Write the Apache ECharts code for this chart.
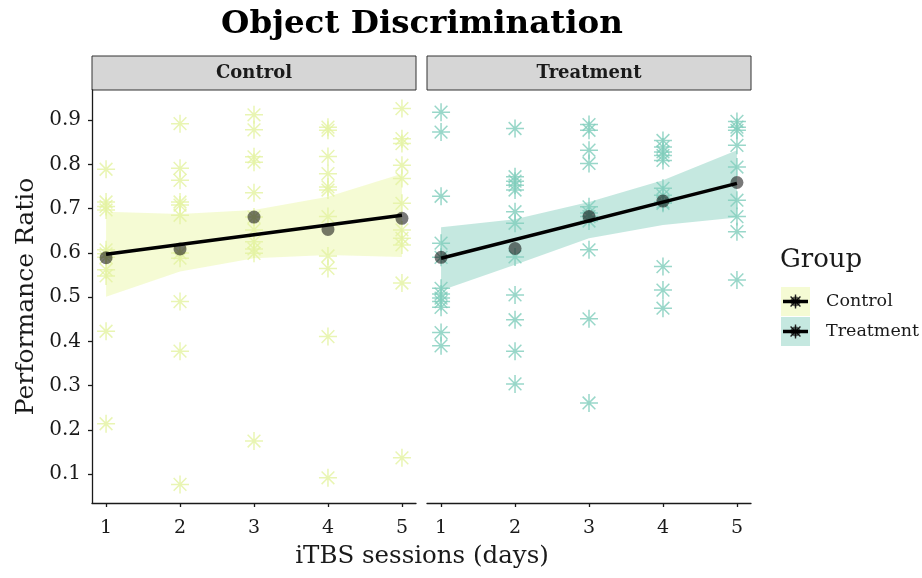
<!DOCTYPE html>
<html><head><meta charset="utf-8">
<script src="https://cdn.jsdelivr.net/npm/echarts@6/dist/echarts.min.js"></script>
<style>html,body{margin:0;padding:0;background:#fff}#chart{width:922px;height:578px}</style>
</head><body><div id="chart"></div>
<script>
// ---- data ----
const days = [1, 2, 3, 4, 5];
const yTicks = [0.1, 0.2, 0.3, 0.4, 0.5, 0.6, 0.7, 0.8, 0.9];
const groups = ['Control', 'Treatment'];

const controlDay1 = [0.789, 0.715, 0.705, 0.697, 0.607, 0.598, 0.590, 0.562, 0.548, 0.423, 0.214];
const controlDay2 = [0.892, 0.791, 0.764, 0.715, 0.708, 0.685, 0.600, 0.588, 0.490, 0.378, 0.077];
const controlDay3 = [0.912, 0.878, 0.817, 0.805, 0.736, 0.681, 0.652, 0.625, 0.609, 0.599, 0.175];
const controlDay4 = [0.884, 0.877, 0.818, 0.779, 0.749, 0.742, 0.682, 0.593, 0.565, 0.411, 0.092];
const controlDay5 = [0.926, 0.858, 0.847, 0.798, 0.768, 0.712, 0.652, 0.633, 0.618, 0.532, 0.137];

const treatmentDay1 = [0.918, 0.873, 0.728, 0.622, 0.590, 0.520, 0.507, 0.498, 0.490, 0.477, 0.420, 0.390];
const treatmentDay2 = [0.881, 0.772, 0.762, 0.753, 0.742, 0.693, 0.667, 0.591, 0.505, 0.449, 0.378, 0.304];
const treatmentDay3 = [0.890, 0.877, 0.832, 0.802, 0.704, 0.690, 0.682, 0.672, 0.607, 0.451, 0.261];
const treatmentDay4 = [0.854, 0.839, 0.828, 0.820, 0.809, 0.746, 0.730, 0.715, 0.712, 0.569, 0.516, 0.475];
const treatmentDay5 = [0.897, 0.884, 0.877, 0.843, 0.794, 0.719, 0.682, 0.648, 0.539];

const controlMeans = [0.589, 0.609, 0.681, 0.653, 0.678];
const treatmentMeans = [0.590, 0.610, 0.682, 0.717, 0.759];

// linear fit at day 1 and day 5, and confidence band per day
const controlFit = [0.597, 0.685];
const treatmentFit = [0.588, 0.757];
const controlBandLow = [0.501, 0.558, 0.588, 0.595, 0.591];
const controlBandHigh = [0.693, 0.688, 0.697, 0.727, 0.779];
const treatmentBandLow = [0.515, 0.573, 0.633, 0.663, 0.680];
const treatmentBandHigh = [0.658, 0.676, 0.715, 0.764, 0.832];

// ---- styling ----
const FONT = 'DejaVu Serif';
const INK = '#1a1a1a';
const colControl = '#E4F3A0';
const colTreatment = '#7FCDBB';
const bandControl = 'rgba(237,248,177,0.55)';
const bandTreatment = 'rgba(127,205,187,0.45)';
const ASTER = 'path://M0 -10 L0 10 M-10 0 L10 0 M-7.07 -7.07 L7.07 7.07 M-7.07 7.07 L7.07 -7.07';

const controlDays = [controlDay1, controlDay2, controlDay3, controlDay4, controlDay5];
const treatmentDays = [treatmentDay1, treatmentDay2, treatmentDay3, treatmentDay4, treatmentDay5];

function pts(byDay) {
  const out = [];
  byDay.forEach((arr, i) => arr.forEach(v => out.push([days[i], v])));
  return out;
}

function band(idx, low, high, color) {
  const data = days.map((d, i) => [d, low[i], high[i]]);
  return {
    type: 'custom', xAxisIndex: idx, yAxisIndex: idx, silent: true, z: 1,
    encode: { x: 0, y: [1, 2] }, data,
    renderItem(params, api) {
      if (params.dataIndex !== 0) return null;
      const up = data.map(p => api.coord([p[0], p[2]]));
      const lo = data.map(p => api.coord([p[0], p[1]])).reverse();
      return { type: 'polygon', shape: { points: up.concat(lo) }, style: { fill: color } };
    }
  };
}

function asterisks(idx, byDay, color) {
  return {
    type: 'scatter', xAxisIndex: idx, yAxisIndex: idx, z: 2, silent: true,
    symbol: ASTER, symbolSize: 18, symbolKeepAspect: true,
    itemStyle: { color: 'rgba(0,0,0,0)', borderColor: color, borderWidth: 1.5 },
    data: pts(byDay)
  };
}

function means(idx, vals) {
  return {
    type: 'scatter', xAxisIndex: idx, yAxisIndex: idx, z: 3, silent: true,
    symbol: 'circle', symbolSize: 13,
    itemStyle: { color: 'rgba(0,0,0,0.66)' },
    data: days.map((d, i) => [d, vals[i]])
  };
}

function fitLine(idx, fit) {
  return {
    type: 'line', xAxisIndex: idx, yAxisIndex: idx, z: 4, silent: true,
    symbol: 'none', lineStyle: { color: '#000', width: 3.5 },
    data: [[days[0], fit[0]], [days[days.length - 1], fit[1]]]
  };
}

const axisLineStyle = { color: INK, width: 1.3 };
function xAxis(idx) {
  return {
    type: 'value', gridIndex: idx, min: 0.81, max: 5.19,
    axisLine: { show: true, onZero: false, lineStyle: axisLineStyle },
    axisTick: { show: true, length: 4, customValues: days, lineStyle: axisLineStyle },
    axisLabel: { customValues: days, fontFamily: FONT, fontSize: 19, color: INK, margin: 16 },
    splitLine: { show: false }
  };
}
function yAxis(idx) {
  const show = idx === 0;
  return {
    type: 'value', gridIndex: idx, min: 0.035, max: 0.968,
    axisLine: { show, onZero: false, lineStyle: axisLineStyle },
    axisTick: { show, length: 4, customValues: yTicks, lineStyle: axisLineStyle },
    axisLabel: { show, customValues: yTicks, formatter: v => v.toFixed(1),
      fontFamily: FONT, fontSize: 20, color: INK, margin: 11 },
    splitLine: { show: false },
    name: show ? 'Performance Ratio' : '', nameLocation: 'middle', nameGap: 53,
    nameTextStyle: { fontFamily: FONT, fontSize: 25, color: INK }
  };
}

const grids = [
  { left: 92, top: 90, width: 324, bottom: 75 },
  { left: 427, top: 90, width: 324, bottom: 75 }
];

function strip(g, label) {
  return [
    { type: 'rect', shape: { x: g.left, y: 56, width: g.width, height: 34 },
      style: { fill: '#d6d6d6', stroke: '#333', lineWidth: 1 } },
    { type: 'text', x: g.left + g.width / 2, y: 73,
      style: { text: label, fontFamily: FONT, fontWeight: 'bold', fontSize: 18, fill: INK,
        align: 'center', verticalAlign: 'middle' } }
  ];
}

function legendKey(y, fill, label) {
  const cx = 795.5, cy = y + 14.5, r = 7, d = r * 0.7071;
  const spoke = (x1, y1, x2, y2) => ({ type: 'line', shape: { x1, y1, x2, y2 },
    style: { stroke: '#222', lineWidth: 1.4 } });
  return [
    { type: 'rect', shape: { x: 781, y: y, width: 29, height: 29 }, style: { fill } },
    spoke(cx, cy - r, cx, cy + r), spoke(cx - r, cy, cx + r, cy),
    spoke(cx - d, cy - d, cx + d, cy + d), spoke(cx - d, cy + d, cx + d, cy - d),
    { type: 'circle', shape: { cx, cy, r: 5 }, style: { fill: 'rgba(0,0,0,0.6)' } },
    { type: 'line', shape: { x1: 783, y1: cy, x2: 808, y2: cy }, style: { stroke: '#000', lineWidth: 3.5 } },
    { type: 'text', x: 826, y: cy,
      style: { text: label, fontFamily: FONT, fontSize: 17.5, fill: INK, verticalAlign: 'middle' } }
  ];
}

const graphics = [].concat(
  [{ type: 'text', x: 422, y: 25,
     style: { text: 'Object Discrimination', fontFamily: FONT, fontWeight: 'bold', fontSize: 32.5,
       fill: '#000', align: 'center', verticalAlign: 'middle' } },
   { type: 'text', x: 422, y: 557,
     style: { text: 'iTBS sessions (days)', fontFamily: FONT, fontSize: 24.5, fill: INK,
       align: 'center', verticalAlign: 'middle' } },
   { type: 'text', x: 780, y: 260,
     style: { text: 'Group', fontFamily: FONT, fontSize: 26, fill: INK, verticalAlign: 'middle' } }],
  strip(grids[0], groups[0]), strip(grids[1], groups[1]),
  legendKey(287, bandControl, groups[0]), legendKey(317, bandTreatment, groups[1])
);

const chart = echarts.init(document.getElementById('chart'), null, { renderer: 'canvas' });
chart.setOption({
  animation: false,
  backgroundColor: '#fff',
  grid: grids,
  xAxis: [xAxis(0), xAxis(1)],
  yAxis: [yAxis(0), yAxis(1)],
  graphic: graphics,
  series: [
    band(0, controlBandLow, controlBandHigh, bandControl),
    band(1, treatmentBandLow, treatmentBandHigh, bandTreatment),
    asterisks(0, controlDays, colControl),
    asterisks(1, treatmentDays, colTreatment),
    means(0, controlMeans),
    means(1, treatmentMeans),
    fitLine(0, controlFit),
    fitLine(1, treatmentFit)
  ]
});
</script></body></html>
